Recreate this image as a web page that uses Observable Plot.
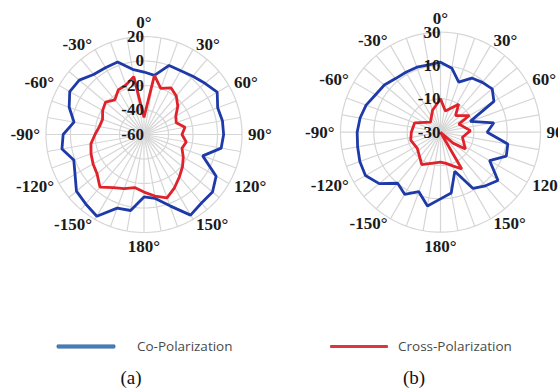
<!DOCTYPE html>
<html>
<head>
<meta charset="utf-8">
<script src="https://cdn.jsdelivr.net/npm/d3@7"></script>
<script src="https://cdn.jsdelivr.net/npm/@observablehq/plot@0.6"></script>
<style>
  body { margin: 0; background: #fff; }
  #figure { position: relative; width: 558px; height: 392px; overflow: hidden; background: #fff; }
  .panel { position: absolute; top: 0; }
  .panel svg { max-width: none; }
  .key-line { position: absolute; height: 3px; border-radius: 1px; }
  .key-text { position: absolute; font-family: "Open Sans", sans-serif; font-size: 13.5px; color: #4a4a4a; line-height: 16px; white-space: nowrap; }
  .caption { position: absolute; font-family: "Liberation Serif", serif; font-size: 19px; color: #111; line-height: 20px; transform: translateX(-50%); }
</style>
</head>
<body>
<div id="figure">
  <div class="panel" id="panel-a" style="left:0px"></div>
  <div class="panel" id="panel-b" style="left:280px"></div>
  <div class="key-line" style="left:57px; top:345px; width:58px; background:#3f7fbf; box-shadow: 0 0 0 0.4px #2c5f94;"></div>
  <div class="key-text" style="left:137px; top:338px;">Co-Polarization</div>
  <div class="key-line" style="left:330px; top:345px; width:58px; background:#e0343c;"></div>
  <div class="key-text" style="left:398px; top:338px;">Cross-Polarization</div>
  <div class="caption" style="left:131px; top:368px;">(a)</div>
  <div class="caption" style="left:414px; top:368px;">(b)</div>
</div>
<script>
// Measurement angles (degrees, clockwise from boresight at the top)
const angles = [-180, -170, -160, -150, -140, -130, -120, -110, -100, -90, -80, -70,
                -60, -50, -40, -30, -20, -10, 0, 10, 20, 30, 40, 50,
                60, 70, 80, 90, 100, 110, 120, 130, 140, 150, 160, 170];

// (a) pattern, dB
const coPolA = [-9, 3, 4, 17, 14, 12, 5, 1, 8, 6, -2, 5,
                10, 9, 4, 3, 3, -6, -9, -11, 0, 0, 2, 5,
                9, 4, 5, 5, 4, -9, 8, 13, 13, 16, 2, -7];
const crossPolA = [-13, -16, -13, -10, -4, -10, -12, -14, -16, -20, -23, -24,
                   -21, -19, -23, -18, -17, -12, -46, -11, -20, -16, -19, -24,
                   -30, -32, -26, -29, -25, -27, -23, -19, -15, -10, -5, -9];

// (b) pattern, dB
const coPolB = [10, 15, 8, 13, 10, 18, 22, 21.5, 20.5, 20, 19, 17.5,
                15, 14, 12, 11.5, 11.5, 11, 12, 9, 2, 7.5, 9, 10.5,
                7, -11, 2.5, -2, 11, 12, 4, 15, 12, 9, -5, 7];
const crossAnglesB = [-180, -150, -125, -105, -90, -70, -45, -20, 0, 13, 33, 42,
                      60, 66, 87, 103, 124, 131, 140, 150, 160, 170];
const crossPolB = [-12, -7.5, -13, -11.5, -12.5, -13.5, -21.5, -16, -10, -17, -10, -16.5,
                   -10, -18, -12, -16.5, -12, -20, -30, -4.5, -8.5, -11];

// Axis ticks
const spokeAngles = d3.range(-180, 180, 10);
const angleTicks = [0, 30, 60, 90, 120, 150, 180, -150, -120, -90, -60, -30];
const radialTicksA = [20, 0, -20, -40, -60];
const radialTicksB = [30, 10, -10, -30];

const CO_COLOR = "#1e3aa8";
const CROSS_COLOR = "#e0222a";
const GRID = "#d6d6d6";

function polarPanel({coAngles, coValues, crossAngles, crossValues, ticks, cx, cy, radius, width, height}) {
  const vMin = d3.min(ticks), vMax = d3.max(ticks);
  const R = 60;                       // outer ring, in degrees of arc
  const k = radius / R;               // pixels per degree of arc
  const rad = d3.scaleLinear().domain([vMin, vMax]).range([0, R]);
  const lon = (a) => 180 - a;         // clockwise angle -> longitude (top = 0°)
  const pts = (as, vs) => as.map((a, i) => ({lon: lon(a), lat: 90 - rad(vs[i])}));
  const co = pts(coAngles, coValues);
  const cross = pts(crossAngles, crossValues);
  const sideR = R + 6 / k, capR = R + 14 / k;
  const labelFont = {fontFamily: "Liberation Serif", fontWeight: "bold", fontSize: 17, fill: "#1a1a1a"};
  const right = angleTicks.filter((a) => a > 0 && a < 180);
  const left = angleTicks.filter((a) => a < 0);
  const caps = angleTicks.filter((a) => a === 0 || a === 180);
  return Plot.plot({
    width, height,
    marginLeft: cx - radius, marginTop: cy - radius,
    marginRight: width - cx - radius, marginBottom: height - cy - radius,
    style: {background: "transparent", overflow: "visible"},
    projection: {
      type: "azimuthal-equidistant",
      rotate: [0, -90],
      clip: false,
      domain: d3.geoCircle().center([0, 90]).radius(R)()
    },
    marks: [
      Plot.link(spokeAngles, {x1: (a) => lon(a), y1: 90 - R, x2: (a) => lon(a), y2: 90, stroke: GRID, strokeWidth: 1.2}),
      Plot.geo(ticks.filter((v) => v > vMin), {
        geometry: (v) => d3.geoCircle().center([0, 90]).radius(rad(v))(),
        fill: "none", stroke: GRID, strokeWidth: 1.2
      }),
      Plot.line(co, {x: "lon", y: "lat", curve: "linear-closed", stroke: CO_COLOR, strokeWidth: 2.8, strokeLinejoin: "miter"}),
      Plot.line(cross, {x: "lon", y: "lat", curve: "linear-closed", stroke: CROSS_COLOR, strokeWidth: 2.8, strokeLinejoin: "miter"}),
      Plot.text(ticks, {x: 180, y: (v) => 90 - rad(v), text: (v) => String(v), textAnchor: "end", dx: 0, ...labelFont}),
      Plot.text(right, {x: (a) => lon(a), y: 90 - sideR, text: (a) => `${a}°`, textAnchor: "start", ...labelFont}),
      Plot.text(left, {x: (a) => lon(a), y: 90 - sideR, text: (a) => `${a}°`, textAnchor: "end", ...labelFont}),
      Plot.text(caps, {x: (a) => lon(a), y: 90 - capR, text: (a) => `${a}°`, textAnchor: "middle", ...labelFont})
    ]
  });
}

document.getElementById("panel-a").append(polarPanel({
  coAngles: angles, coValues: coPolA, crossAngles: angles, crossValues: crossPolA,
  ticks: radialTicksA, cx: 143.5, cy: 134, radius: 98, width: 280, height: 270
}));
document.getElementById("panel-b").append(polarPanel({
  coAngles: angles, coValues: coPolB, crossAngles: crossAnglesB, crossValues: crossPolB,
  ticks: radialTicksB, cx: 160, cy: 131.7, radius: 100, width: 300, height: 270
}));
</script>
</body>
</html>
